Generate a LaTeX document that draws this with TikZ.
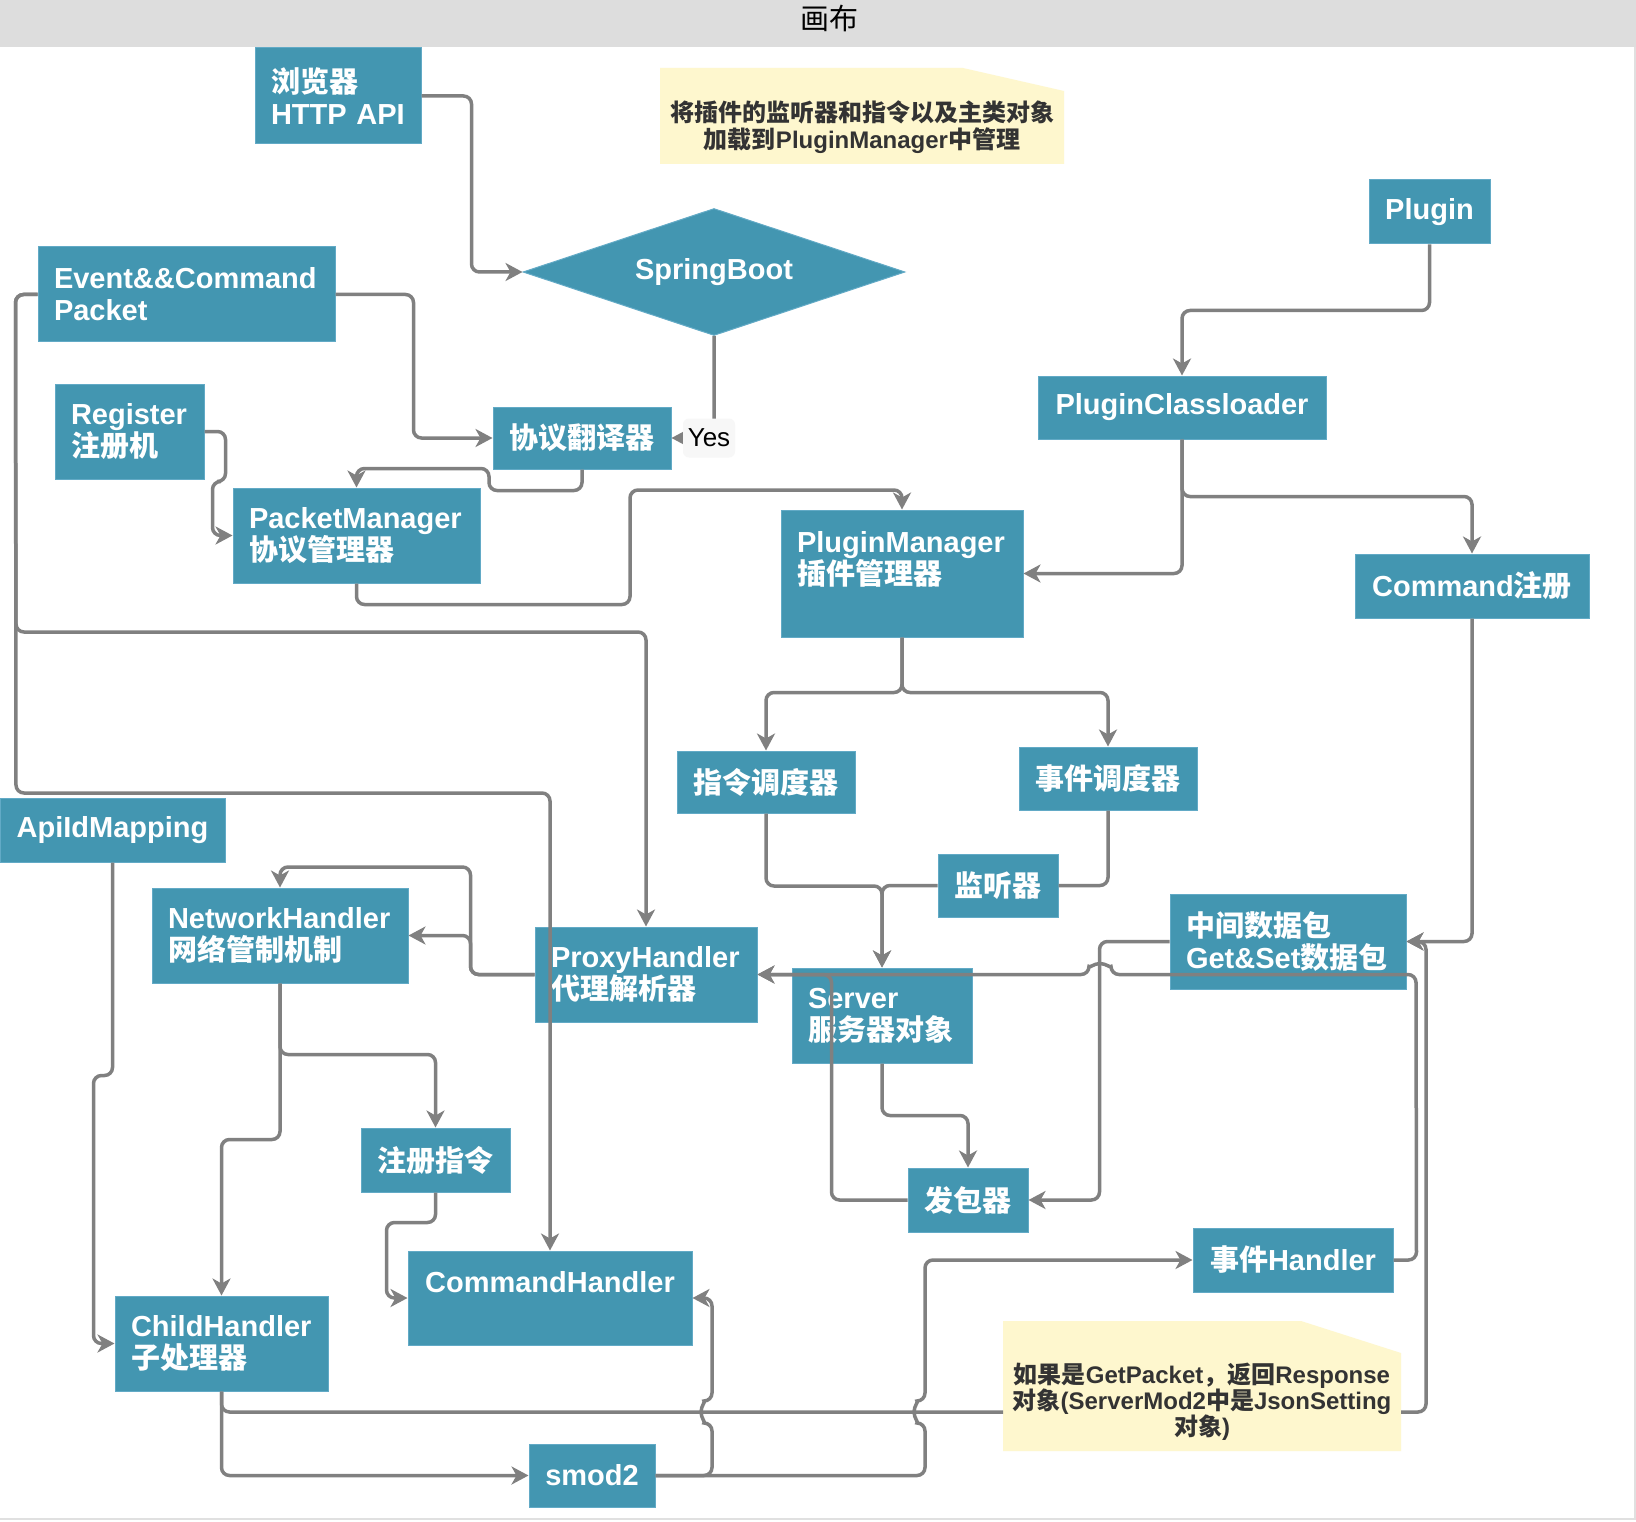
\documentclass[tikz,border=0pt]{standalone}
\usepackage{fontspec}
\setmainfont{Liberation Sans}
\newfontfamily\cjk{Noto Sans CJK SC}
\usepackage{tikz}
\usetikzlibrary{shapes.geometric}
\usetikzlibrary{arrows.meta}
\usepackage{xcolor}

\definecolor{boxblue}{RGB}{67,150,177}
\definecolor{boxedge}{RGB}{98,170,198}
\definecolor{linegray}{RGB}{128,128,128}
\definecolor{notefill}{RGB}{254,247,206}
\definecolor{headgray}{RGB}{221,221,221}
\definecolor{notetext}{RGB}{51,51,51}

\begin{document}
\begin{tikzpicture}[x=1pt, y=-1pt,
    blk/.style={draw=boxedge, line width=1pt, fill=boxblue, text=white, inner ysep=0pt,
      font=\fontsize{29}{32}\selectfont\bfseries},
    cblk/.style={blk, align=center, inner xsep=8pt},
    lblk/.style={blk, align=left, inner xsep=16pt},
    wire/.style={draw=linegray, line width=3.5pt, rounded corners=8pt},
    arr/.style={wire, -{Stealth[length=17pt, width=18pt, inset=5pt]}},
    notetxt/.style={text=notetext, align=center, font=\fontsize{24}{27}\selectfont\bfseries},
    yeslbl/.style={fill=black!3, rounded corners=6pt, text=black, inner sep=0pt,
      minimum width=52pt, minimum height=39pt, font=\fontsize{26}{30}\selectfont}]
    \useasboundingbox (0,0) rectangle (1636,1522);

    % Canvas
    \fill[white] (0,0) rectangle (1636,1522);
    \fill[headgray] (0,0) rectangle (1636,47.5);
    \draw[black!12, line width=2pt] (1635,47.5) -- (1635,1519) -- (0,1519);
    \node[font=\fontsize{29}{32}\selectfont\cjk] (title) at (829,18) {画布};

    % Notes
    \fill[notefill] (660,68) -- (963,68) -- (1064,91) -- (1064,164) -- (660,164) -- cycle;
    \node[notetxt] (loadnote) at (862,127)
      {{\cjk 将插件的监听器和指令以及主类对象}\\{\cjk 加载到}PluginManager{\cjk 中管理}};
    \fill[notefill] (1003,1321) -- (1301,1321) -- (1401,1353) -- (1401,1451) -- (1003,1451) -- cycle;
    \node[notetxt, font=\fontsize{24}{26}\selectfont\bfseries] (respnote) at (1202,1402)
      {{\cjk 如果是}GetPacket{\cjk ，返回}Response\\{\cjk 对象}(ServerMod2{\cjk 中是}JsonSetting\\{\cjk 对象})};
    \coordinate (respin) at (1003,1412);
    \coordinate (respout) at (1401,1412);

    % Boxes
    \node[lblk, text width=134pt, minimum height=96pt] (browser) at (338,96) {{\cjk 浏览器}\\HTTP~API};
    \node[blk, diamond, aspect=3, inner sep=0pt, minimum width=382pt, minimum height=127pt] (spring) at (714,272) {SpringBoot};
    \node[lblk, text width=265pt, minimum height=95pt] (event) at (186.5,294.5) {Event\&\&Command\\Packet};
    \node[lblk, text width=117pt, minimum height=95pt] (reg) at (129.5,431.5) {Register\\{\cjk 注册机}};
    \node[cblk, minimum width=178pt, minimum height=62pt] (trans) at (582,438) {{\cjk 协议翻译器}};
    \node[lblk, text width=215pt, minimum height=95pt] (pktmgr) at (356.5,535.5) {PacketManager\\{\cjk 协议管理器}};
    \node[cblk, minimum width=121pt, minimum height=64pt] (plugin) at (1429.5,212) {Plugin};
    \node[cblk, minimum width=288pt, minimum height=63pt] (loader) at (1182,407.5) {PluginClassloader};
    \node[lblk, text width=210pt, minimum height=127pt] (pmgr) at (902,573.5) {PluginManager\\{\cjk 插件管理器}\\\mbox{}};
    \node[cblk, minimum width=234pt, minimum height=64pt] (cmdreg) at (1472,586) {Command{\cjk 注册}};
    \node[cblk, minimum width=178pt, minimum height=62pt] (cmdsched) at (766,782) {{\cjk 指令调度器}};
    \node[cblk, minimum width=178pt, minimum height=63pt] (evsched) at (1108,778.5) {{\cjk 事件调度器}};
    \node[cblk, minimum width=120pt, minimum height=63pt] (listener) at (998,885.5) {{\cjk 监听器}};
    \node[lblk, text width=204pt, minimum height=95pt] (mid) at (1288,941.5) {{\cjk 中间数据包}\\Get\&Set{\cjk 数据包}};
    \node[lblk, text width=148pt, minimum height=95pt] (server) at (882,1015.5) {Server\\{\cjk 服务器对象}};
    \node[lblk, text width=190pt, minimum height=95pt] (proxy) at (646,974.5) {ProxyHandler\\{\cjk 代理解析器}};
    \node[cblk, minimum width=120pt, minimum height=64pt] (sender) at (968,1200) {{\cjk 发包器}};
    \node[cblk, minimum width=225pt, minimum height=64pt] (apimap) at (112.5,830) {ApiIdMapping};
    \node[lblk, text width=224pt, minimum height=95pt] (net) at (280,935.5) {NetworkHandler\\{\cjk 网络管制机制}};
    \node[cblk, minimum width=149pt, minimum height=64pt] (regcmd) at (435.5,1160) {{\cjk 注册指令}};
    \node[cblk, minimum width=284pt, minimum height=94pt] (cmdh) at (550,1298) {CommandHandler\\\mbox{}};
    \node[lblk, text width=181pt, minimum height=95pt] (child) at (221.5,1343.5) {ChildHandler\\{\cjk 子处理器}};
    \node[cblk, minimum width=126pt, minimum height=63pt] (smod) at (592,1475.5) {smod2};
    \node[cblk, minimum width=200pt, minimum height=64pt] (evh) at (1293,1260) {{\cjk 事件}Handler};

    % Connectors
    \draw[arr] (browser.east) -- ++(50,0) |- (spring.west);
    \draw[arr] (spring.south) |- node[yeslbl, pos=0.5, xshift=-5pt] (yes) {Yes} (trans.east);
    \draw[arr] (event.east) -- ++(78,0) |- (trans.west);
    \draw[arr] (reg.east) -- ++(21,0) -- ++(0,50) -- ++(-13,0) |- (pktmgr.west);
    \draw[arr] (trans.south) -- ++(0,21) -- ++(-93,0) -- ++(0,-22) -| (pktmgr.north);
    \draw[arr] (pktmgr.south) -- ++(0,21) -| (630,490) -| (pmgr.north);
    \draw[arr] (plugin.south) -- ++(0,66) -| (loader.north);
    \draw[arr] (loader.south) |- (pmgr.east);
    \draw[arr] (loader.south) -- ++(0,57) -| (cmdreg.north);
    \draw[arr] (cmdreg.south) |- (mid.east);
    \draw[arr] (pmgr.south) -- ++(0,55) -| (cmdsched.north);
    \draw[arr] (pmgr.south) -- ++(0,55) -| (evsched.north);
    \draw[wire] (evsched.south) |- (listener.east);
    \draw[arr] (listener.west) -| (server.north);
    \draw[arr] (cmdsched.south) -- ++(0,72.5) -| (server.north);
    \draw[arr] (server.south) -- ++(0,52) -| (sender.north);
    \draw[arr] (mid.west) -- ++(-70,0) |- (sender.east);
    \draw[arr] (evh.east) -- ++(23,0) -- (1416,974.5) -- (1111,974.5)
      arc[start angle=0, end angle=-180, radius=11] -- (proxy.east);
    \draw[arr] (sender.west) -- ++(-76,0) |- (proxy.east);
    \draw[arr] (proxy.west) -- ++(-64,0) |- (net.east);
    \draw[arr] (proxy.west) -- ++(-64,0) -- ++(0,-107.5) -| (net.north);
    \draw[arr] (event.west) -- ++(-22,0) -- (16,632) -| (proxy.north);
    \draw[arr] (event.west) -- ++(-22,0) -- (16,793) -| (cmdh.north);
    \draw[arr] (apimap.south) -- ++(0,213) -- ++(-19,0) |- (child.west);
    \draw[arr] (net.south) -- ++(0,71) -| (regcmd.north);
    \draw[arr] (net.south) -- ++(0,156) -| (child.north);
    \draw[arr] (regcmd.south) -- ++(0,30) -- ++(-49,0) |- (cmdh.west);
    \draw[arr] (child.south) |- (smod.west);
    \draw[wire] (child.south) |- (respin);
    \draw[arr] (respout) -- ++(25,0) |- (mid.east);
    \draw[arr] (smod.east) -- (712,1475.5) -- (712,1423)
      arc[start angle=90, end angle=270, radius=11] |- (cmdh.east);
    \draw[arr] (smod.east) -- (925,1475.5) -- (925,1423)
      arc[start angle=90, end angle=270, radius=11] |- (evh.west);
\end{tikzpicture}
\end{document}
